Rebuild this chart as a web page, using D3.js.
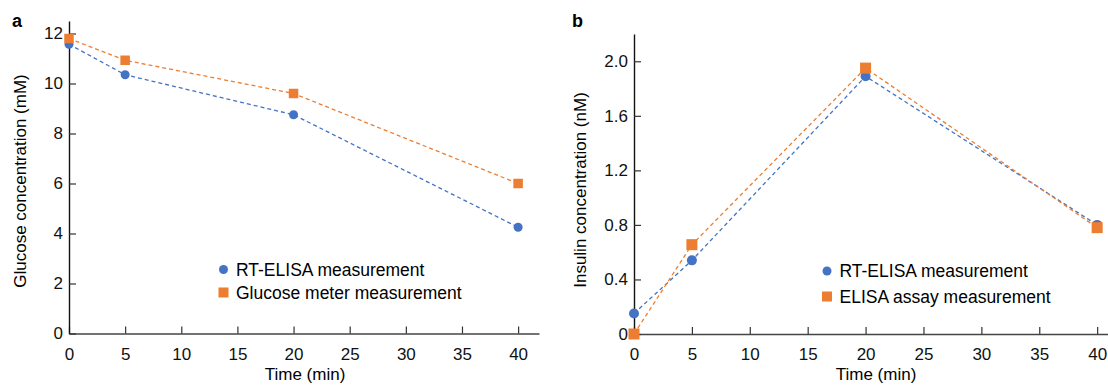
<!DOCTYPE html>
<html>
<head>
<meta charset="utf-8">
<script src="https://cdn.jsdelivr.net/npm/d3@7"></script>
<style>
  body { margin: 0; background: #fff; }
  svg { display: block; font-family: "Liberation Sans", Arial, Helvetica, sans-serif; }
  .tick text { font-size: 17px; fill: #111; }
</style>
</head>
<body>
<svg id="chart" width="1108" height="385"></svg>
<script>
// values
const times = [0, 5, 20, 40];
const xTicks = [0, 5, 10, 15, 20, 25, 30, 35, 40];

const glucoseRt = [11.57, 10.35, 8.75, 4.25];
const glucoseMeter = [11.8, 10.93, 9.6, 6.0];
const glucoseTicks = [0, 2, 4, 6, 8, 10, 12];

const insulinRt = [0.15, 0.54, 1.89, 0.8];
const insulinElisa = [0, 0.655, 1.95, 0.78];
const insulinTicks = [0, 0.4, 0.8, 1.2, 1.6, 2.0];

const blue = "#4472c4";
const orange = "#ed7d31";

const svg = d3.select("#chart");

// one panel = axes + two dashed series + legend
function drawPanel(p) {
    const x = d3.scaleLinear().domain(p.xDomain).range([p.left, p.right]);
    const y = d3.scaleLinear().domain(p.yDomain).range([p.bottom, p.top]);
    const g = svg.append("g");

    g.append("g")
        .attr("transform", `translate(0,${p.bottom})`)
        .call(d3.axisBottom(x).tickValues(xTicks).tickSizeInner(-7).tickSizeOuter(0).tickPadding(14))
        .call(a => a.select(".domain").attr("stroke", "#444").attr("stroke-width", 1.6))
        .call(a => a.selectAll(".tick line").attr("stroke", "#333").attr("stroke-width", 1.2));

    g.append("g")
        .attr("transform", `translate(${p.left},0)`)
        .call(d3.axisLeft(y).tickValues(p.yTicks).tickFormat(p.fmt).tickSizeInner(-7).tickSizeOuter(0).tickPadding(6))
        .call(a => a.select(".domain").attr("stroke", "#111").attr("stroke-width", 1.4))
        .call(a => a.selectAll(".tick line").attr("stroke", "#333").attr("stroke-width", 1.2));

    const line = d3.line().x((d, i) => x(times[i])).y(d => y(d));

    [[p.blueVals, blue], [p.orangeVals, orange]].forEach(([vals, col]) => {
        g.append("path")
            .datum(vals)
            .attr("d", line)
            .attr("fill", "none")
            .attr("stroke", col)
            .attr("stroke-width", 1.3)
            .attr("stroke-dasharray", "4,3");
    });

    g.selectAll(".dot").data(p.blueVals).enter().append("circle")
        .attr("cx", (d, i) => x(times[i]))
        .attr("cy", d => y(d))
        .attr("r", p.r)
        .attr("fill", blue);

    g.selectAll(".sq").data(p.orangeVals).enter().append("rect")
        .attr("x", (d, i) => x(times[i]) - p.sq / 2)
        .attr("y", d => y(d) - p.sq / 2)
        .attr("width", p.sq)
        .attr("height", p.sq)
        .attr("fill", orange);

    // axis titles
    g.append("text")
        .attr("x", p.xTitleX).attr("y", 380)
        .attr("text-anchor", "middle")
        .style("font-size", "17px")
        .text("Time (min)");

    g.append("text")
        .attr("transform", `translate(${p.yTitleX},${p.yTitleY}) rotate(-90)`)
        .attr("text-anchor", "middle")
        .attr("dy", "0.35em")
        .style("font-size", "17px")
        .text(p.yTitle);

    // panel letter
    g.append("text")
        .attr("x", p.letterX).attr("y", 27)
        .style("font-size", "18px").style("font-weight", "bold")
        .text(p.letter);

    // legend
    const lg = g.append("g");
    lg.append("circle").attr("cx", p.legX).attr("cy", p.legY1).attr("r", 4.5).attr("fill", blue);
    lg.append("rect").attr("x", p.legX - 5).attr("y", p.legY2 - 5).attr("width", 10).attr("height", 10).attr("fill", orange);
    lg.append("text").attr("x", p.legX + 12.5).attr("y", p.legY1).attr("dy", "0.35em")
        .style("font-size", "17.5px").text(p.legend[0]);
    lg.append("text").attr("x", p.legX + 12.5).attr("y", p.legY2).attr("dy", "0.35em")
        .style("font-size", "17.5px").text(p.legend[1]);
}

drawPanel({
    left: 69, right: 539, top: 21, bottom: 333.5,
    xDomain: [0, 41.86], yDomain: [0, 12.5],
    yTicks: glucoseTicks, fmt: d3.format("d"),
    blueVals: glucoseRt, orangeVals: glucoseMeter,
    r: 4.5, sq: 9.5,
    xTitleX: 305, yTitleX: 20, yTitleY: 181,
    yTitle: "Glucose concentration (mM)",
    letter: "a", letterX: 12,
    legX: 223.5, legY1: 269.5, legY2: 292.5,
    legend: ["RT-ELISA measurement", "Glucose meter measurement"]
});

drawPanel({
    left: 634, right: 1118, top: 34, bottom: 334,
    xDomain: [0, 41.8], yDomain: [0, 2.2],
    yTicks: insulinTicks, fmt: d => d === 0 ? "0" : d3.format(".1f")(d),
    blueVals: insulinRt, orangeVals: insulinElisa,
    r: 5, sq: 11,
    xTitleX: 876, yTitleX: 580, yTitleY: 190,
    yTitle: "Insulin concentration (nM)",
    letter: "b", letterX: 572,
    legX: 827, legY1: 271, legY2: 296.5,
    legend: ["RT-ELISA measurement", "ELISA assay measurement"]
});
</script>
</body>
</html>
